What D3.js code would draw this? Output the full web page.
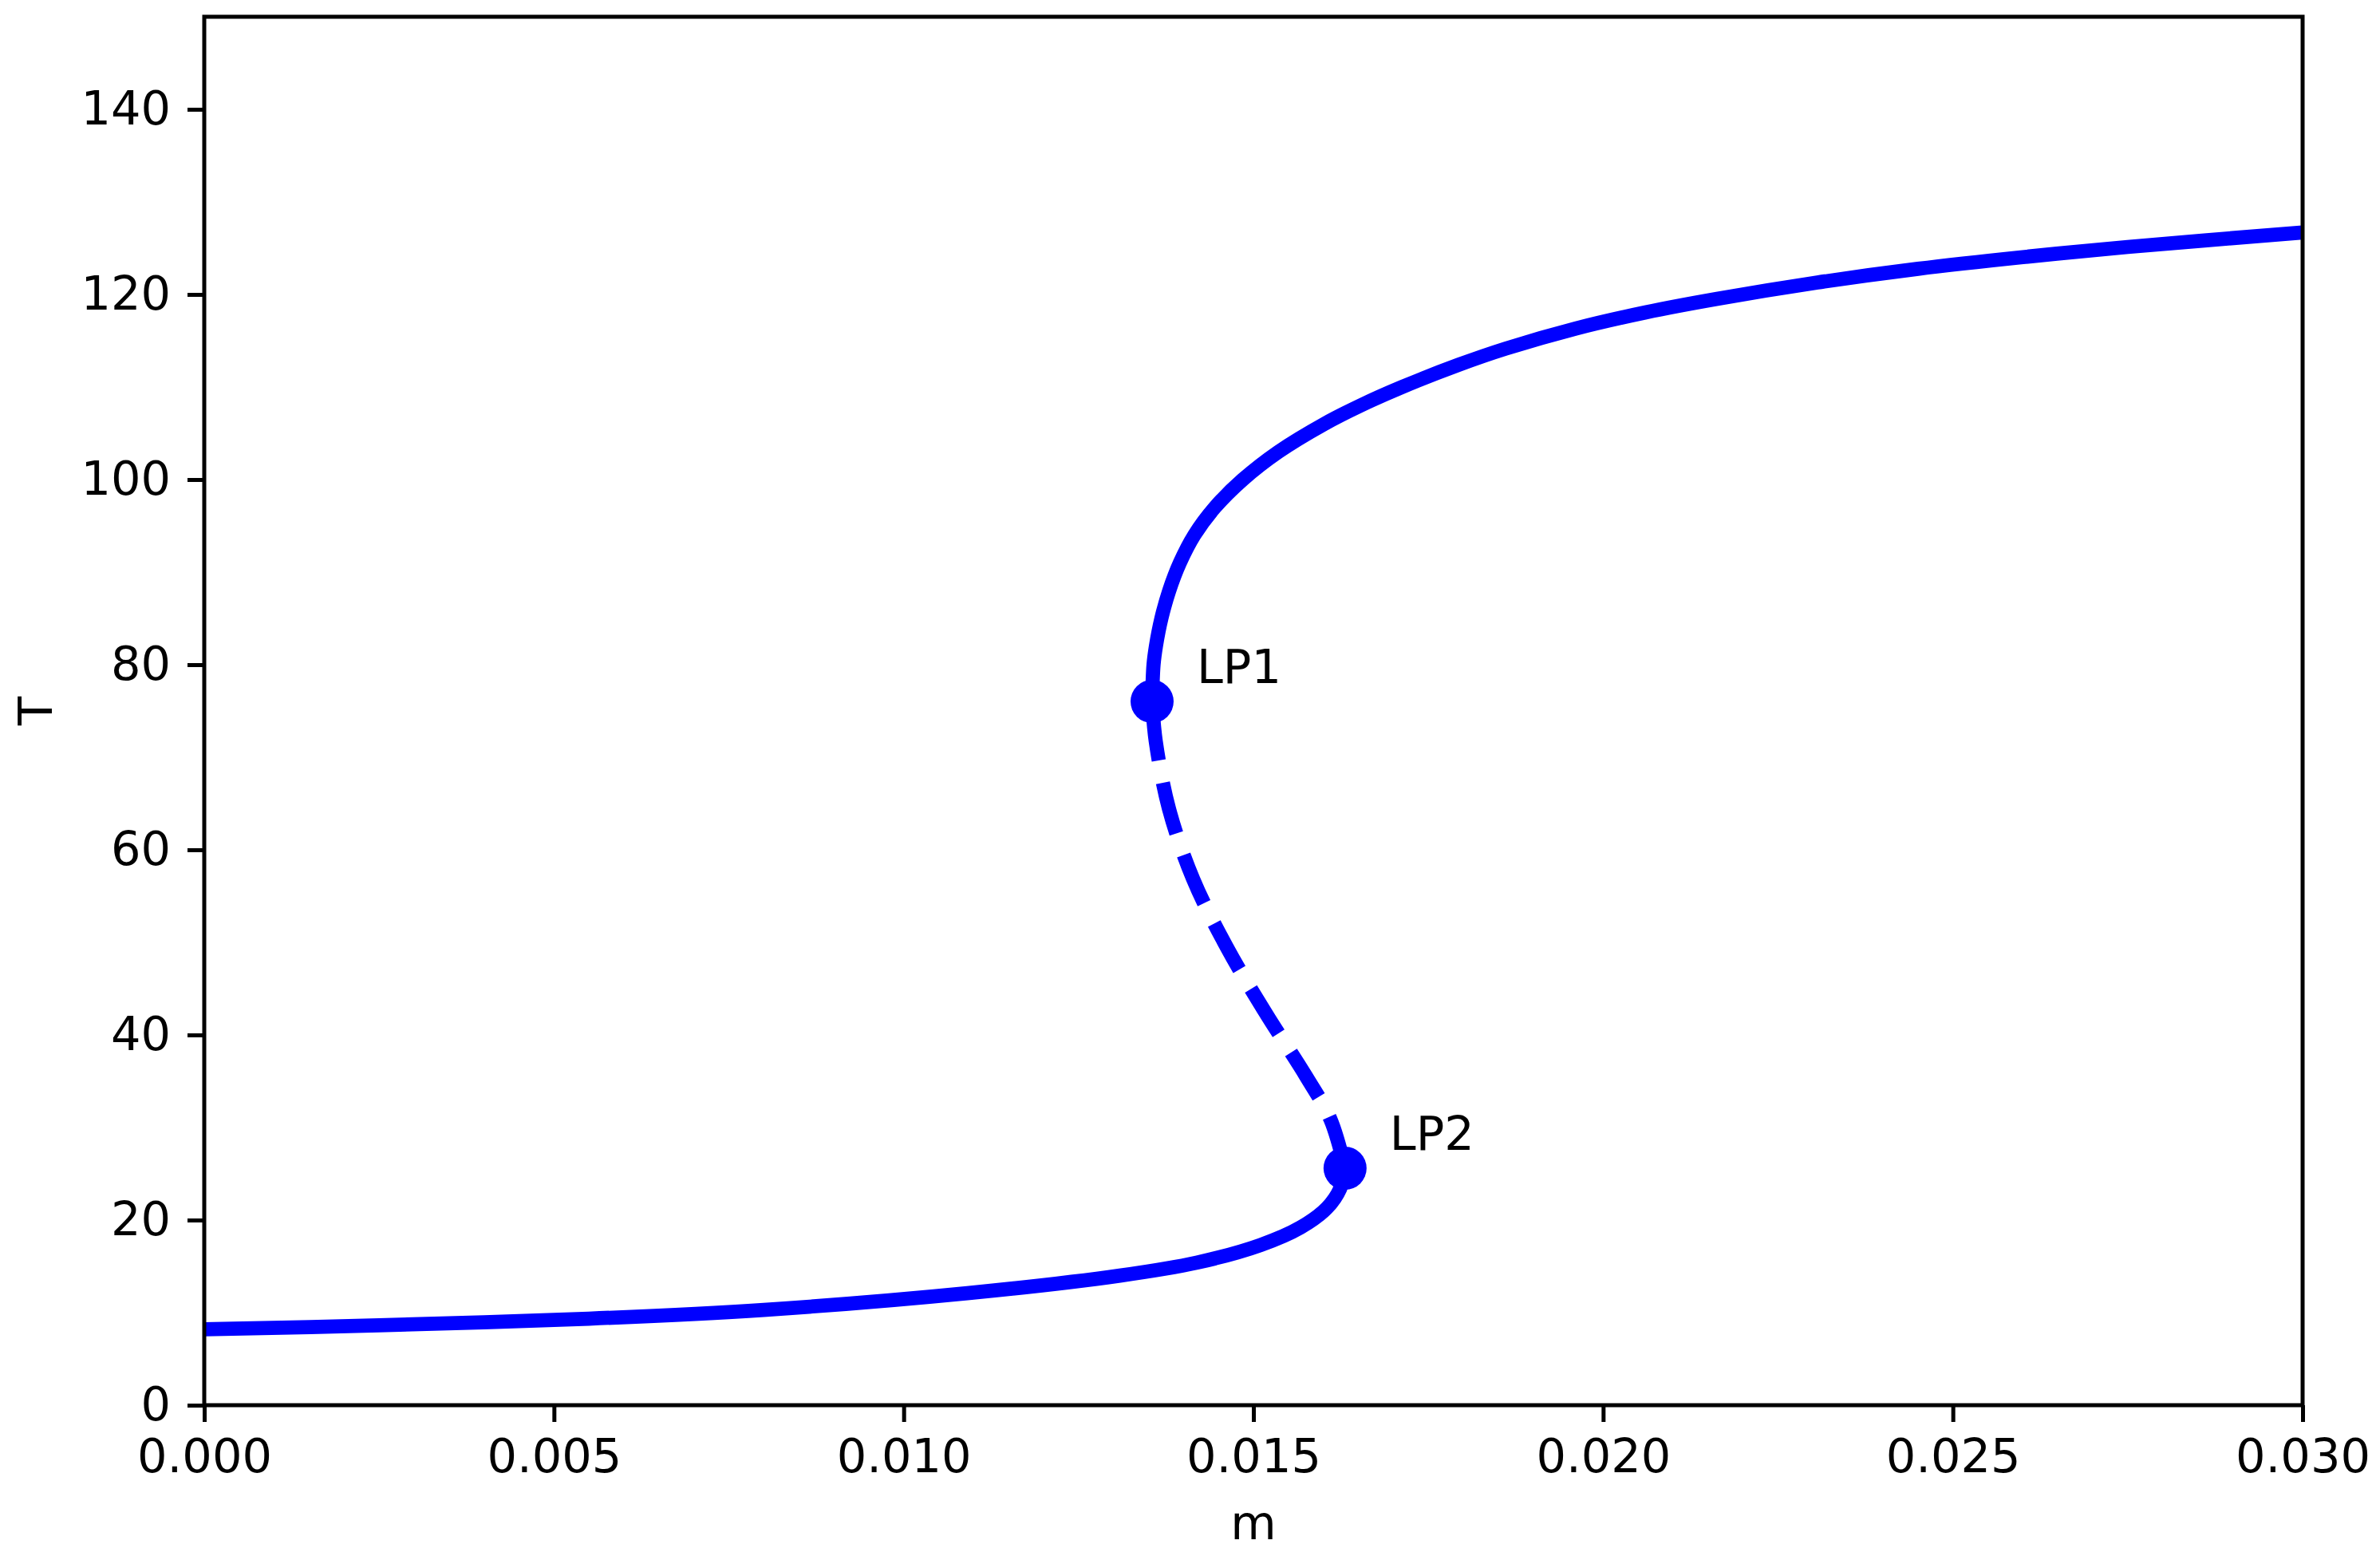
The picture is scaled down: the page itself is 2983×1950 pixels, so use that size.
<!DOCTYPE html>
<html>
<head>
<meta charset="utf-8">
<script src="https://cdn.jsdelivr.net/npm/d3@7"></script>
<style>
  html, body { margin: 0; padding: 0; background: #fff; }
  svg { display: block; }
  text { font-family: "DejaVu Sans", sans-serif; }
</style>
</head>
<body>
<script>
// ---- data ----
// stable lower branch: m = 0 up to LP2
const lowerM = [0.0000, 0.0025, 0.0055, 0.0080, 0.01091, 0.01309, 0.01419, 0.0151, 0.015673, 0.01605, 0.01624, 0.01631];
const lowerT = [8.19,   8.63,   9.35,   10.30,  12.10,   14.0,    15.4,    17.3,   19.2,     21.3,    23.4,    25.6];
// unstable middle branch (dashed): LP1 down to LP2
const middleM = [0.013551, 0.013603, 0.013792, 0.014139, 0.014619, 0.015169, 0.015749, 0.0161, 0.01631];
const middleT = [76.03,    71.75,    64.45,    56.82,    49.49,    42.44,    35.57,    30.9,   25.6];
// stable upper branch: LP1 up to m = 0.03
const upperM = [0.013551, 0.013572, 0.013606, 0.013684, 0.013796, 0.013948, 0.014155, 0.01445, 0.014848, 0.015358, 0.01601, 0.01653, 0.017125, 0.017934, 0.018607, 0.019613, 0.020607, 0.021614, 0.023065, 0.0245, 0.0260, 0.0275, 0.0300];
const upperT = [76.03,    80,       82,       85,       88,       91,       94,       97,      100,      103,      106,     108,     110,      112.4,    114.15,   116.33,   118.06,   119.5,    121.29,   122.77, 124.03, 125.13, 126.7];
// limit points
const lpNames = ["LP1", "LP2"];
const lpM = [0.013551, 0.01631];
const lpT = [76.03, 25.6];
// axes
const xTicks = [0.000, 0.005, 0.010, 0.015, 0.020, 0.025, 0.030];
const yTicks = [0, 20, 40, 60, 80, 100, 120, 140];
const xLabel = "m";
const yLabel = "T";

// ---- layout ----
const W = 2983, H = 1950;
const pL = 256, pR = 2886, pT = 21, pB = 1761;
const fontPx = 59;
const lw = 17.75;
const blue = "#0000ff";

const svg = d3.select("body").append("svg").attr("width", W).attr("height", H);

const x = d3.scaleLinear().domain([0, 0.03]).range([pL, pR]);
const y = d3.scaleLinear().domain([0, 150]).range([pB, pT]);

svg.append("defs").append("clipPath").attr("id", "clip")
  .append("rect").attr("x", pL).attr("y", pT).attr("width", pR - pL).attr("height", pB - pT);

const zipPts = (ms, ts) => ms.map((m, i) => [m, ts[i]]);
const line = d3.line().x(d => x(d[0])).y(d => y(d[1])).curve(d3.curveCatmullRom.alpha(0.5));

const plot = svg.append("g").attr("clip-path", "url(#clip)");

plot.append("path").datum(zipPts(lowerM, lowerT))
  .attr("d", line).attr("fill", "none").attr("stroke", blue).attr("stroke-width", lw)
  .attr("stroke-linecap", "butt");
plot.append("path").datum(zipPts(upperM, upperT))
  .attr("d", line).attr("fill", "none").attr("stroke", blue).attr("stroke-width", lw)
  .attr("stroke-linecap", "butt");
plot.append("path").datum(zipPts(middleM, middleT))
  .attr("d", line).attr("fill", "none").attr("stroke", blue).attr("stroke-width", lw)
  .attr("stroke-linecap", "butt")
  .attr("stroke-dasharray", `${3.7 * lw} ${1.6 * lw}`)
  .attr("stroke-dashoffset", -9);

// limit point markers
plot.selectAll("circle.lp").data(lpM).enter().append("circle")
  .attr("class", "lp")
  .attr("cx", d => x(d)).attr("cy", (d, i) => y(lpT[i])).attr("r", 27)
  .attr("fill", blue);

// labels
svg.selectAll("text.lp").data(lpNames).enter().append("text")
  .attr("class", "lp")
  .attr("x", (d, i) => x(lpM[i]) + 56)
  .attr("y", (d, i) => y(lpT[i]) - 23)
  .attr("font-size", fontPx).attr("fill", "#000")
  .text(d => d);

// axes
const xAxis = d3.axisBottom(x).tickValues(xTicks).tickFormat(d3.format(".3f"))
  .tickSize(21).tickPadding(21);
const yAxis = d3.axisLeft(y).tickValues(yTicks).tickFormat(d3.format("d"))
  .tickSize(21).tickPadding(21);

const gx = svg.append("g").attr("transform", `translate(0,${pB})`).call(xAxis);
const gy = svg.append("g").attr("transform", `translate(${pL},0)`).call(yAxis);
[gx, gy].forEach(g => {
  g.select(".domain").remove();
  g.selectAll(".tick line").attr("stroke", "#000").attr("stroke-width", 5);
  g.selectAll(".tick text").attr("font-size", fontPx).attr("fill", "#000")
    .attr("font-family", "DejaVu Sans, sans-serif");
});

// frame (spines)
svg.append("rect").attr("x", pL).attr("y", pT)
  .attr("width", pR - pL).attr("height", pB - pT)
  .attr("fill", "none").attr("stroke", "#000").attr("stroke-width", 5)
  .attr("stroke-linejoin", "miter");

// axis titles
svg.append("text").attr("x", (pL + pR) / 2).attr("y", 1929)
  .attr("text-anchor", "middle").attr("font-size", fontPx).attr("fill", "#000")
  .text(xLabel);
svg.append("text").attr("transform", `translate(65,${(pT + pB) / 2}) rotate(-90)`)
  .attr("text-anchor", "middle").attr("font-size", fontPx).attr("fill", "#000")
  .text(yLabel);
</script>
</body>
</html>
